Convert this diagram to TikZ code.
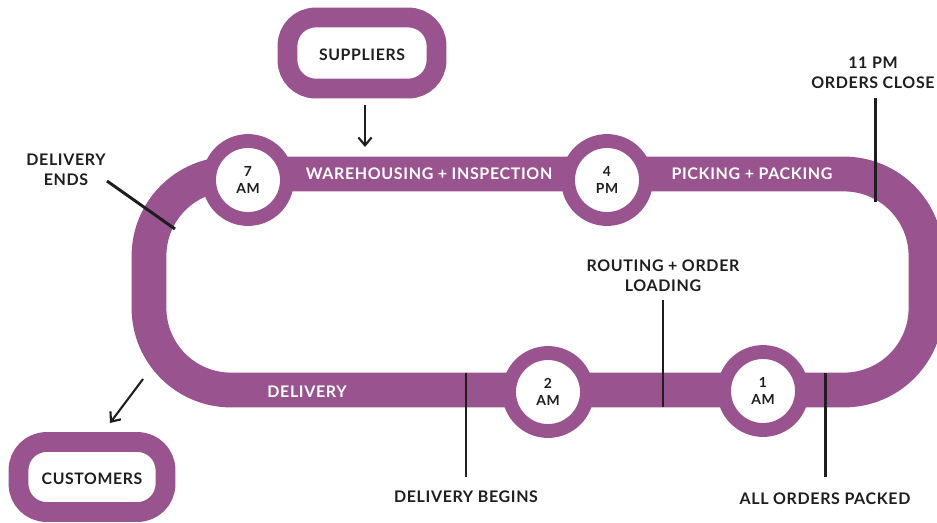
\documentclass[tikz,border=0pt]{standalone}
\usepackage{fontspec}
\setmainfont[LetterSpace=4]{Lato}
\usepackage{tikz}
\usetikzlibrary{arrows.meta}
\definecolor{plum}{RGB}{153,84,143}
\definecolor{ink}{RGB}{30,30,30}

\begin{document}
\begin{tikzpicture}[x=0.02cm,y=-0.02cm,>={Straight Barb[length=4.5pt,width=7.5pt]},
  track/.style={draw=plum,line width=19.8pt,rounded corners=1.64cm},
  stop node/.style={circle,draw=plum,line width=7.9pt,fill=white,minimum size=1.56cm,
    inner sep=0pt,align=center,text=ink,font=\fontsize{7.9}{9.6}\selectfont\bfseries},
  box node/.style={rectangle,rounded corners=0.56cm,draw=plum,line width=11.3pt,
    fill=white,inner sep=0pt,text height=9pt,text depth=0pt,text=ink,
    font=\fontsize{9}{10}\selectfont\bfseries},
  band text/.style={text=white,font=\fontsize{9.1}{11}\selectfont\bfseries},
  note text/.style={text=ink,align=center,font=\fontsize{9.1}{11.3}\selectfont\bfseries},
  pin line/.style={draw=ink,line width=1.7pt},
  feed arrow/.style={->,draw=ink,line width=1.2pt}]

    \useasboundingbox (0,0) rectangle (937,522);

    \draw[track] (149,174) rectangle (926,390);

    \node[stop node] (seven) at (248,180) {7\\AM};
    \node[stop node] (four) at (607,180) {4\\PM};
    \node[stop node] (two) at (548,392) {2\\AM};
    \node[stop node] (one) at (763,391) {1\\AM};

    \node[box node,minimum width=2.98cm,minimum height=1.42cm] (suppliers) at (362,53) {SUPPLIERS};
    \node[box node,minimum width=2.94cm,minimum height=1.40cm] (customers) at (92,477) {CUSTOMERS};

    \node[band text] (warehousing) at (429,174) {WAREHOUSING + INSPECTION};
    \node[band text] (picking) at (752,174) {PICKING + PACKING};
    \node[band text] (delivery) at (307,392) {DELIVERY};

    \node[note text] (ends) at (66,170) {DELIVERY\\ENDS};
    \node[note text] (close) at (873,73) {11 PM\\ORDERS CLOSE};
    \node[note text] (routing) at (663,276) {ROUTING + ORDER\\LOADING};
    \node[note text] (begins) at (466,497) {DELIVERY BEGINS};
    \node[note text] (packed) at (825,499) {ALL ORDERS PACKED};

    \coordinate (ends top) at (107,181);
    \coordinate (ends tip) at (175,229);
    \coordinate (close top) at (875,98);
    \coordinate (close tip) at (875,202);
    \coordinate (routing top) at (663,300);
    \coordinate (routing tip) at (663,407);
    \coordinate (begins top) at (466,373);
    \coordinate (begins tip) at (466,477);
    \coordinate (packed top) at (825,373);
    \coordinate (packed tip) at (825,477);
    \coordinate (in start) at (365,105);
    \coordinate (in end) at (365,147);
    \coordinate (out start) at (143,379);
    \coordinate (out end) at (110,423);

    \draw[pin line] (ends top) -- (ends tip);
    \draw[pin line] (close top) -- (close tip);
    \draw[pin line] (routing top) -- (routing tip);
    \draw[pin line] (begins top) -- (begins tip);
    \draw[pin line] (packed top) -- (packed tip);

    \draw[feed arrow] (in start) -- (in end);
    \draw[feed arrow] (out start) -- (out end);
\end{tikzpicture}
\end{document}
